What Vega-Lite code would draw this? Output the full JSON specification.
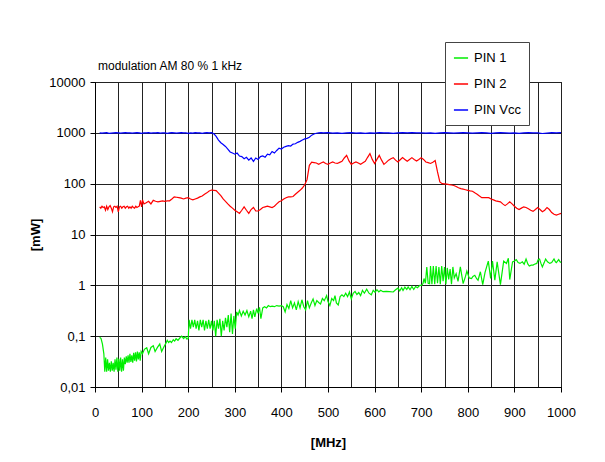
{
 "$schema": "https://vega.github.io/schema/vega-lite/v6.json",
 "width": 466, "height": 305,
 "autosize": {"type": "none"},
 "padding": {"left": 95, "top": 82, "right": 44, "bottom": 75},
 "background": "white",
 "datasets": {
  "p1": [
   {"f":10,"v":0.095},{"f":13,"v":0.09},{"f":16,"v":0.07},{"f":19,"v":0.045},{"f":21,"v":0.02},{"f":23,"v":0.038},{"f":25,"v":0.02},{"f":27,"v":0.035},{"f":29,"v":0.021},{"f":31,"v":0.03},{"f":33,"v":0.02},{"f":35,"v":0.032},{"f":37,"v":0.021},{"f":39,"v":0.03},{"f":41,"v":0.02},{"f":43,"v":0.035},{"f":45,"v":0.022},{"f":47,"v":0.038},{"f":49,"v":0.02},{"f":51,"v":0.036},{"f":53,"v":0.021},{"f":55,"v":0.038},{"f":57,"v":0.02},{"f":59,"v":0.035},{"f":61,"v":0.021},{"f":63,"v":0.038},{"f":65,"v":0.028},{"f":67,"v":0.04},{"f":69,"v":0.03},{"f":71,"v":0.042},{"f":73,"v":0.03},{"f":75,"v":0.045},{"f":77,"v":0.031},{"f":79,"v":0.042},{"f":81,"v":0.03},{"f":83,"v":0.047},{"f":85,"v":0.033},{"f":87,"v":0.048},{"f":89,"v":0.032},{"f":91,"v":0.05},{"f":93,"v":0.035},{"f":95,"v":0.048},{"f":97,"v":0.033},{"f":99,"v":0.05},
   {"f":102,"v":0.045},{"f":106,"v":0.055},{"f":111,"v":0.059},{"f":115,"v":0.045},{"f":120,"v":0.06},{"f":125,"v":0.065},{"f":129,"v":0.05},{"f":134,"v":0.06},{"f":139,"v":0.07},{"f":143,"v":0.05},{"f":148,"v":0.062},{"f":152,"v":0.072},{"f":155,"v":0.083},{"f":158,"v":0.075},{"f":161,"v":0.08},{"f":164,"v":0.075},{"f":168,"v":0.085},{"f":171,"v":0.08},{"f":174,"v":0.089},{"f":178,"v":0.083},{"f":182,"v":0.092},{"f":186,"v":0.1},{"f":190,"v":0.09},{"f":194,"v":0.098},{"f":197,"v":0.088},{"f":200,"v":0.09},
   {"f":202,"v":0.21},{"f":205,"v":0.14},{"f":208,"v":0.21},{"f":211,"v":0.15},{"f":214,"v":0.21},{"f":217,"v":0.14},{"f":220,"v":0.2},{"f":223,"v":0.13},{"f":226,"v":0.21},{"f":229,"v":0.15},{"f":232,"v":0.21},{"f":235,"v":0.13},{"f":238,"v":0.2},{"f":241,"v":0.14},{"f":244,"v":0.21},{"f":247,"v":0.14},{"f":250,"v":0.2},{"f":253,"v":0.13},{"f":256,"v":0.2},{"f":259,"v":0.1},{"f":262,"v":0.21},{"f":265,"v":0.14},{"f":268,"v":0.22},{"f":271,"v":0.1},{"f":274,"v":0.2},{"f":277,"v":0.13},{"f":280,"v":0.23},{"f":283,"v":0.15},{"f":286,"v":0.26},{"f":289,"v":0.12},{"f":292,"v":0.28},{"f":295,"v":0.11},{"f":298,"v":0.25},{"f":301,"v":0.14},
   {"f":304,"v":0.3},{"f":307,"v":0.26},{"f":310,"v":0.32},{"f":314,"v":0.25},{"f":318,"v":0.31},{"f":322,"v":0.26},{"f":326,"v":0.32},{"f":330,"v":0.24},{"f":334,"v":0.31},{"f":337,"v":0.22},{"f":340,"v":0.33},{"f":343,"v":0.24},{"f":347,"v":0.35},{"f":350,"v":0.28},{"f":353,"v":0.37},{"f":356,"v":0.22},{"f":360,"v":0.36},{"f":364,"v":0.38},{"f":368,"v":0.36},{"f":372,"v":0.4},{"f":376,"v":0.38},{"f":380,"v":0.39},{"f":385,"v":0.38},{"f":390,"v":0.4},{"f":395,"v":0.39},{"f":400,"v":0.4},
   {"f":404,"v":0.38},{"f":408,"v":0.3},{"f":412,"v":0.42},{"f":416,"v":0.35},{"f":420,"v":0.5},{"f":424,"v":0.36},{"f":428,"v":0.45},{"f":432,"v":0.33},{"f":436,"v":0.48},{"f":440,"v":0.36},{"f":444,"v":0.52},{"f":448,"v":0.38},{"f":452,"v":0.33},{"f":456,"v":0.5},{"f":460,"v":0.36},{"f":464,"v":0.45},{"f":468,"v":0.54},{"f":472,"v":0.4},{"f":476,"v":0.5},{"f":480,"v":0.46},{"f":484,"v":0.43},{"f":488,"v":0.55},{"f":492,"v":0.5},{"f":497,"v":0.63},{"f":500,"v":0.48},
   {"f":504,"v":0.4},{"f":508,"v":0.55},{"f":512,"v":0.5},{"f":515,"v":0.63},{"f":518,"v":0.45},{"f":522,"v":0.41},{"f":526,"v":0.6},{"f":530,"v":0.65},{"f":534,"v":0.6},{"f":538,"v":0.7},{"f":542,"v":0.6},{"f":546,"v":0.74},{"f":550,"v":0.54},{"f":554,"v":0.7},{"f":558,"v":0.76},{"f":562,"v":0.66},{"f":566,"v":0.72},{"f":570,"v":0.63},{"f":574,"v":0.8},{"f":578,"v":0.7},{"f":583,"v":0.84},{"f":588,"v":0.7},{"f":593,"v":0.65},{"f":597,"v":0.8},
   {"f":601,"v":0.73},{"f":605,"v":0.82},{"f":609,"v":0.74},{"f":613,"v":0.8},{"f":618,"v":0.75},{"f":625,"v":0.76},{"f":632,"v":0.75},{"f":640,"v":0.74},{"f":645,"v":0.82},{"f":650,"v":0.88},{"f":654,"v":0.78},{"f":658,"v":0.9},{"f":661,"v":0.79},{"f":665,"v":0.92},{"f":669,"v":0.83},{"f":672,"v":0.93},{"f":676,"v":0.82},{"f":680,"v":0.95},{"f":684,"v":0.83},{"f":688,"v":0.95},{"f":692,"v":0.9},{"f":697,"v":1.0},{"f":701,"v":1.0},
   {"f":704,"v":1.1},{"f":706,"v":1.36},{"f":709,"v":1.1},{"f":712,"v":2.3},{"f":715,"v":1.1},{"f":718,"v":1.08},{"f":720,"v":2.4},{"f":723,"v":1.05},{"f":726,"v":2.4},{"f":729,"v":1.05},{"f":732,"v":2.4},{"f":735,"v":1.1},{"f":738,"v":2.3},{"f":741,"v":1.05},{"f":744,"v":2.4},{"f":747,"v":1.2},{"f":750,"v":2.3},{"f":753,"v":1.05},{"f":756,"v":2.2},{"f":759,"v":1.3},{"f":762,"v":2.1},{"f":765,"v":1.05},{"f":768,"v":2.3},{"f":771,"v":1.4},{"f":775,"v":1.7},{"f":779,"v":1.2},{"f":784,"v":2.3},{"f":790,"v":1.08},{"f":795,"v":1.5},{"f":798,"v":1.9},
   {"f":803,"v":1.4},{"f":808,"v":1.36},{"f":811,"v":1.5},{"f":815,"v":1.58},{"f":819,"v":1.35},{"f":822,"v":1.26},{"f":827,"v":1.85},{"f":832,"v":1.03},{"f":837,"v":1.8},{"f":844,"v":3.0},{"f":849,"v":1.36},{"f":853,"v":3.0},{"f":858,"v":1.26},{"f":863,"v":2.9},{"f":870,"v":1.03},{"f":877,"v":3.0},{"f":883,"v":2.7},{"f":887,"v":3.4},{"f":890,"v":1.3},{"f":896,"v":2.9},{"f":900,"v":3.0},
   {"f":904,"v":3.2},{"f":908,"v":2.8},{"f":912,"v":2.7},{"f":917,"v":2.9},{"f":921,"v":2.6},{"f":925,"v":3.3},{"f":929,"v":2.6},{"f":932,"v":2.4},{"f":936,"v":2.5},{"f":940,"v":2.5},{"f":943,"v":2.6},{"f":948,"v":2.7},{"f":951,"v":3.2},{"f":954,"v":3.3},{"f":957,"v":2.7},{"f":960,"v":2.3},{"f":964,"v":2.8},{"f":967,"v":3.3},{"f":971,"v":2.9},{"f":976,"v":2.7},{"f":980,"v":2.8},{"f":985,"v":3.3},{"f":988,"v":2.9},{"f":990,"v":2.8},{"f":995,"v":3.2},{"f":998,"v":2.9},{"f":1000,"v":2.8}
  ],
  "p2": [
   {"f":10,"v":35},{"f":12.5,"v":33},{"f":15,"v":36},{"f":17.5,"v":34},{"f":20,"v":35},{"f":22.5,"v":30},{"f":25,"v":36},{"f":27.5,"v":31},{"f":30,"v":35},{"f":32.5,"v":37},{"f":35,"v":33},{"f":37.5,"v":28},{"f":40,"v":35},{"f":42.5,"v":36},{"f":45,"v":34},{"f":47.5,"v":36},{"f":50,"v":28},{"f":52.5,"v":35},{"f":55,"v":36},{"f":57.5,"v":33},{"f":60,"v":35},{"f":62.5,"v":36},{"f":65,"v":33},{"f":67.5,"v":35},{"f":70,"v":36},{"f":72.5,"v":33},{"f":75,"v":35},{"f":77.5,"v":33},{"f":80,"v":36},{"f":82.5,"v":34},{"f":85,"v":33},{"f":87.5,"v":36},{"f":90,"v":34},{"f":92.5,"v":35},{"f":95,"v":36},{"f":97.5,"v":47},{"f":100,"v":35},{"f":102,"v":48},
   {"f":105,"v":40},{"f":110,"v":42},{"f":115,"v":45},{"f":120,"v":40},{"f":125,"v":47},{"f":130,"v":45},{"f":135,"v":44},{"f":140,"v":45},{"f":145,"v":46},{"f":150,"v":45},{"f":155,"v":46},{"f":160,"v":46},{"f":165,"v":50},{"f":170,"v":55},{"f":175,"v":54},{"f":180,"v":53},{"f":185,"v":52},{"f":190,"v":50},{"f":195,"v":52},{"f":200,"v":53},{"f":205,"v":50},{"f":210,"v":48},{"f":215,"v":50},{"f":220,"v":52},{"f":225,"v":55},{"f":230,"v":57},{"f":235,"v":62},{"f":240,"v":66},{"f":245,"v":72},{"f":250,"v":75},{"f":255,"v":74},{"f":260,"v":73},{"f":265,"v":65},{"f":270,"v":58},{"f":275,"v":50},{"f":280,"v":45},{"f":285,"v":40},{"f":290,"v":36},{"f":295,"v":33},{"f":300,"v":30},
   {"f":305,"v":28},{"f":310,"v":26},{"f":315,"v":30},{"f":320,"v":35},{"f":325,"v":30},{"f":330,"v":26},{"f":335,"v":31},{"f":340,"v":34},{"f":345,"v":29},{"f":350,"v":29},{"f":355,"v":31},{"f":360,"v":34},{"f":365,"v":35},{"f":370,"v":36},{"f":375,"v":35},{"f":380,"v":34},{"f":385,"v":36},{"f":390,"v":40},{"f":395,"v":44},{"f":400,"v":46},{"f":405,"v":50},{"f":410,"v":53},{"f":415,"v":55},{"f":420,"v":55},{"f":425,"v":56},{"f":430,"v":62},{"f":435,"v":68},{"f":440,"v":74},{"f":445,"v":82},{"f":450,"v":95},{"f":455,"v":120},{"f":460,"v":230},{"f":465,"v":265},{"f":470,"v":260},{"f":475,"v":255},{"f":480,"v":240},{"f":485,"v":255},{"f":490,"v":267},{"f":495,"v":250},{"f":500,"v":240},
   {"f":505,"v":255},{"f":510,"v":267},{"f":515,"v":255},{"f":520,"v":250},{"f":525,"v":262},{"f":530,"v":275},{"f":535,"v":320},{"f":540,"v":360},{"f":545,"v":280},{"f":550,"v":240},{"f":555,"v":255},{"f":560,"v":267},{"f":565,"v":255},{"f":570,"v":240},{"f":575,"v":258},{"f":580,"v":275},{"f":585,"v":330},{"f":590,"v":390},{"f":595,"v":300},{"f":600,"v":250},{"f":605,"v":300},{"f":610,"v":360},{"f":615,"v":290},{"f":620,"v":240},{"f":625,"v":262},{"f":630,"v":290},{"f":635,"v":310},{"f":640,"v":325},{"f":645,"v":290},{"f":650,"v":267},{"f":655,"v":295},{"f":660,"v":325},{"f":665,"v":300},{"f":670,"v":275},{"f":675,"v":300},{"f":680,"v":325},{"f":685,"v":300},{"f":690,"v":280},{"f":695,"v":300},{"f":700,"v":325},
   {"f":705,"v":300},{"f":710,"v":267},{"f":715,"v":260},{"f":720,"v":250},{"f":725,"v":265},{"f":730,"v":285},{"f":735,"v":170},{"f":740,"v":108},{"f":745,"v":100},{"f":750,"v":99},{"f":755,"v":98},{"f":760,"v":96},{"f":765,"v":94},{"f":770,"v":92},{"f":775,"v":88},{"f":780,"v":83},{"f":785,"v":80},{"f":790,"v":78},{"f":795,"v":76},{"f":800,"v":74},{"f":805,"v":72},{"f":810,"v":71},{"f":815,"v":66},{"f":820,"v":62},{"f":825,"v":57},{"f":830,"v":53},{"f":835,"v":53},{"f":840,"v":53},{"f":845,"v":53},{"f":850,"v":50},{"f":855,"v":48},{"f":860,"v":46},{"f":865,"v":45},{"f":870,"v":44},{"f":875,"v":40},{"f":880,"v":37},{"f":885,"v":40},{"f":890,"v":44},{"f":895,"v":40},{"f":900,"v":36},
   {"f":905,"v":33},{"f":910,"v":31},{"f":915,"v":33},{"f":920,"v":35},{"f":925,"v":34},{"f":930,"v":32},{"f":935,"v":30},{"f":940,"v":28.5},{"f":945,"v":31},{"f":950,"v":34},{"f":955,"v":31},{"f":960,"v":28},{"f":965,"v":30},{"f":970,"v":34},{"f":975,"v":31},{"f":980,"v":27},{"f":985,"v":25},{"f":990,"v":24},{"f":995,"v":25},{"f":1000,"v":26}
  ],
  "vcc": [
   {"f":10,"v":1000},{"f":15,"v":990},{"f":20,"v":1000},{"f":25,"v":1010},{"f":30,"v":980},{"f":35,"v":990},{"f":40,"v":1000},{"f":45,"v":1010},{"f":50,"v":1000},{"f":55,"v":990},{"f":60,"v":1000},{"f":65,"v":1010},{"f":70,"v":1000},{"f":75,"v":1000},{"f":80,"v":990},{"f":85,"v":1000},{"f":90,"v":1010},{"f":95,"v":1000},{"f":100,"v":980},{"f":105,"v":1000},{"f":110,"v":1000},{"f":115,"v":1010},{"f":120,"v":990},{"f":125,"v":1000},{"f":130,"v":1000},{"f":135,"v":1010},{"f":140,"v":990},{"f":145,"v":1000},{"f":150,"v":1000},{"f":155,"v":980},{"f":160,"v":1000},{"f":165,"v":1010},{"f":170,"v":1000},{"f":175,"v":990},{"f":180,"v":1000},{"f":185,"v":1010},{"f":190,"v":1000},{"f":195,"v":1000},{"f":200,"v":980},{"f":205,"v":1000},{"f":210,"v":990},{"f":215,"v":1010},{"f":220,"v":1000},{"f":225,"v":1000},{"f":230,"v":980},{"f":235,"v":1000},{"f":240,"v":1010},{"f":245,"v":1000},{"f":250,"v":1010},
   {"f":255,"v":960},{"f":260,"v":850},{"f":265,"v":720},{"f":270,"v":640},{"f":275,"v":590},{"f":280,"v":540},{"f":285,"v":480},{"f":290,"v":420},{"f":295,"v":400},{"f":300,"v":380},{"f":305,"v":400},{"f":310,"v":350},{"f":315,"v":340},{"f":320,"v":310},{"f":325,"v":330},{"f":330,"v":290},{"f":335,"v":320},{"f":340,"v":275},{"f":345,"v":320},{"f":350,"v":300},{"f":355,"v":340},{"f":360,"v":350},{"f":365,"v":330},{"f":370,"v":380},{"f":375,"v":370},{"f":380,"v":430},{"f":385,"v":400},{"f":390,"v":450},{"f":395,"v":500},{"f":400,"v":480},{"f":405,"v":520},{"f":410,"v":540},{"f":415,"v":560},{"f":420,"v":550},{"f":425,"v":600},{"f":430,"v":610},{"f":435,"v":650},{"f":440,"v":680},{"f":445,"v":720},{"f":450,"v":760},{"f":455,"v":780},{"f":460,"v":820},{"f":465,"v":900},{"f":470,"v":950},{"f":475,"v":980},{"f":480,"v":1000},{"f":485,"v":1010},{"f":490,"v":1000},
   {"f":500,"v":1010},{"f":510,"v":990},{"f":520,"v":1000},{"f":530,"v":980},{"f":540,"v":1000},{"f":550,"v":1010},{"f":560,"v":990},{"f":570,"v":1000},{"f":580,"v":980},{"f":590,"v":1000},{"f":600,"v":990},{"f":610,"v":1010},{"f":620,"v":1000},{"f":630,"v":1000},{"f":640,"v":980},{"f":650,"v":1000},{"f":660,"v":1010},{"f":670,"v":1000},{"f":680,"v":1010},{"f":690,"v":1000},{"f":700,"v":1000},{"f":710,"v":990},{"f":720,"v":1000},{"f":730,"v":980},{"f":740,"v":1000},{"f":750,"v":1010},{"f":760,"v":1000},{"f":770,"v":990},{"f":780,"v":1000},{"f":790,"v":1010},{"f":800,"v":1000},{"f":810,"v":990},{"f":820,"v":1000},{"f":830,"v":1010},{"f":840,"v":1000},{"f":850,"v":980},{"f":860,"v":1000},{"f":870,"v":1010},{"f":880,"v":1000},{"f":890,"v":990},{"f":900,"v":1000},{"f":910,"v":980},{"f":920,"v":1000},{"f":930,"v":1010},{"f":940,"v":1000},{"f":950,"v":1000},{"f":960,"v":970},{"f":970,"v":990},{"f":980,"v":1010},{"f":990,"v":1000},{"f":1000,"v":1010}
  ],
  "note": [{"f": 0, "v": 10000, "t": "modulation AM 80 % 1 kHz"}]
 },
 "encoding": {
  "x": {"field": "f", "type": "quantitative", "scale": {"domain": [0, 1000], "nice": false},
        "axis": {"title": "[MHz]", "values": [0,50,100,150,200,250,300,350,400,450,500,550,600,650,700,750,800,850,900,950,1000],
                 "format": "d",
                 "labelExpr": "datum.value % 100 === 0 ? datum.label : ''",
                 "tickOpacity": {"condition": {"test": "datum.value % 100 !== 0", "value": 0}, "value": 1},
                 "labelPadding": 14, "titlePadding": 17, "labelFlush": false}},
  "y": {"field": "v", "type": "quantitative", "scale": {"type": "log", "domain": [0.01, 10000], "nice": false},
        "axis": {"title": "[mW]", "values": [0.01,0.1,1,10,100,1000,10000], "format": "~g",
                 "labelExpr": "replace(datum.label, '.', ',')", "labelPadding": 5, "titlePadding": 6}}
 },
 "layer": [
  {"data": {"name": "p1"}, "mark": {"type": "line", "strokeWidth": 1.2},
   "encoding": {"color": {"datum": "PIN 1", "type": "nominal",
     "scale": {"domain": ["PIN 1", "PIN 2", "PIN Vcc"], "range": ["#00ee00", "#ff0000", "#0000ff"]},
     "legend": {"orient": "none", "legendX": 350, "legendY": -40, "title": null, "strokeColor": "#444", "fillColor": "white",
                "padding": 8, "symbolType": "stroke", "symbolSize": 200, "symbolStrokeWidth": 1.5,
                "labelFontSize": 13, "labelFont": "Liberation Sans", "labelColor": "black", "rowPadding": 11, "labelOffset": 5}}}},
  {"data": {"name": "p2"}, "mark": {"type": "line", "strokeWidth": 1.2}, "encoding": {"color": {"datum": "PIN 2", "type": "nominal"}}},
  {"data": {"name": "vcc"}, "mark": {"type": "line", "strokeWidth": 1.2}, "encoding": {"color": {"datum": "PIN Vcc", "type": "nominal"}}},
  {"data": {"name": "note"},
   "mark": {"type": "text", "align": "left", "baseline": "middle", "dx": 3, "dy": -16, "font": "Liberation Sans", "fontSize": 12, "fill": "black"},
   "encoding": {"text": {"field": "t", "type": "nominal"}}}
 ],
 "config": {
  "view": {"stroke": "black", "strokeWidth": 1},
  "axis": {"labelFont": "Liberation Sans", "labelFontSize": 13, "labelColor": "black",
           "titleFont": "Liberation Sans", "titleFontSize": 13, "titleFontWeight": "bold", "titleColor": "black",
           "domainColor": "black", "tickColor": "black", "tickSize": 5, "gridColor": "#222", "gridWidth": 1, "gridOpacity": 1}
 }
}
